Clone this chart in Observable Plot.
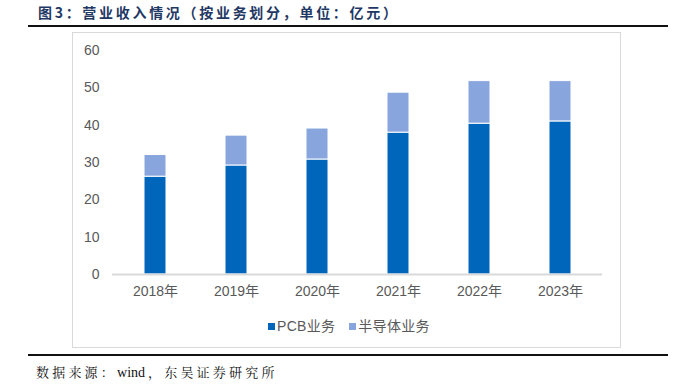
<!DOCTYPE html>
<html>
<head>
<meta charset="utf-8">
<script src="https://cdn.jsdelivr.net/npm/d3@7"></script>
<script src="https://cdn.jsdelivr.net/npm/@observablehq/plot@0.6"></script>
<style>
  html, body { margin: 0; padding: 0; background: #fff; }
  #wrap { position: relative; width: 678px; height: 387px; overflow: hidden; background: #fff; }
  #title { position: absolute; left: 38px; top: 3px; font-family: "Noto Sans CJK SC", sans-serif; font-weight: bold; font-size: 14px; letter-spacing: 2.7px; color: #1f3864; line-height: 18px; white-space: nowrap; }
  .hline { position: absolute; left: 28px; width: 640px; height: 2px; background: #111; }
  #box { position: absolute; left: 72px; top: 32px; width: 547px; height: 314px; border: 1px solid #d9d9d9; }
  #chart { position: absolute; left: 72px; top: 32px; }
  #legend { position: absolute; top: 317px; left: 268px; font-family: "Liberation Sans", Arial, "Noto Sans CJK SC", sans-serif; font-size: 14px; color: #595959; letter-spacing: 0.3px; white-space: nowrap; line-height: 18px; }
  #legend span.sw { display: inline-block; width: 7px; height: 7px; margin-right: 2px; vertical-align: 1px; }
  #legend span.item { margin-right: 14px; }
  #caption { position: absolute; left: 36px; top: 364px; font-family: "Liberation Serif", "Noto Serif CJK SC", "Noto Sans CJK SC", serif; font-size: 13px; letter-spacing: 3.2px; color: #111; white-space: nowrap; line-height: 18px; }
  #caption .lat { letter-spacing: 0; font-size: 14px; margin-right: 3px; }
</style>
</head>
<body>
<div id="wrap">
  <div id="title">图3：营业收入情况（按业务划分，单位：亿元）</div>
  <div class="hline" style="top:25px"></div>
  <div id="box"></div>
  <div id="chart"></div>
  <div id="legend"></div>
  <div class="hline" style="top:354px"></div>
  <div id="caption">数据来源：<span class="lat">wind</span>，东吴证券研究所</div>
</div>
<script>
const years = ["2018年", "2019年", "2020年", "2021年", "2022年", "2023年"];
const pcb = [26.2, 29.2, 30.8, 38.0, 40.4, 41.0];
const semi = [5.8, 8.0, 8.3, 10.7, 11.4, 10.8];
const seriesNames = ["PCB业务", "半导体业务"];
const seriesColors = ["#0066bb", "#88a6dd"];
const yTicks = [0, 10, 20, 30, 40, 50, 60];

const data = [];
years.forEach((y, i) => {
  data.push({year: y, series: seriesNames[0], value: pcb[i]});
  data.push({year: y, series: seriesNames[1], value: semi[i]});
});

const chart = Plot.plot({
  width: 548,
  height: 280,
  marginLeft: 40,
  marginRight: 18,
  marginTop: 18,
  marginBottom: 38,
  style: {fontFamily: "'Liberation Sans', Arial, 'Noto Sans CJK SC', sans-serif", fontSize: "14px", color: "#595959", background: "transparent"},
  x: {domain: years, paddingInner: 0.73, paddingOuter: 0.365, label: null},
  y: {domain: [0, 60], ticks: yTicks, label: null},
  color: {domain: seriesNames, range: seriesColors},
  marks: [
    Plot.barY(data, Plot.stackY({x: "year", y: "value", fill: "series", order: seriesNames, stroke: "white", strokeWidth: 1})),
    Plot.ruleY([0], {stroke: "#d9d9d9", strokeWidth: 2}),
    Plot.axisY({ticks: yTicks, tickSize: 0, tickPadding: 13, fontSize: 14, fill: "#595959", label: null}),
    Plot.axisX({tickSize: 0, tickPadding: 12, fontSize: 14, fill: "#595959", label: null})
  ]
});
document.getElementById("chart").appendChild(chart);

const legend = document.getElementById("legend");
seriesNames.forEach((n, i) => {
  const item = document.createElement("span");
  item.className = "item";
  const sw = document.createElement("span");
  sw.className = "sw";
  sw.style.background = seriesColors[i];
  item.appendChild(sw);
  item.appendChild(document.createTextNode(n));
  legend.appendChild(item);
});
</script>
</body>
</html>
